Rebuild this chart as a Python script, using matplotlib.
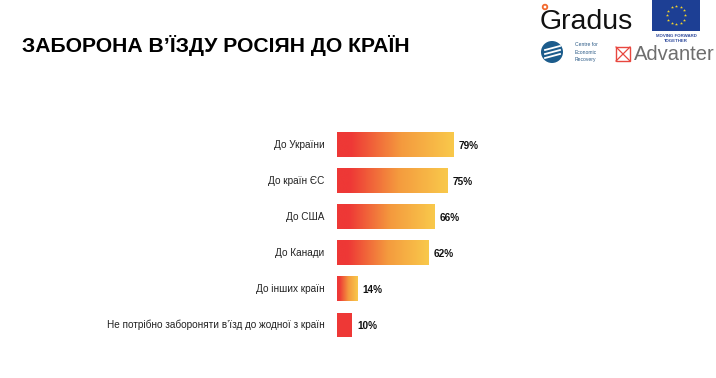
import numpy as np
import matplotlib
matplotlib.use('Agg')
from matplotlib import pyplot as plt
from matplotlib.colors import LinearSegmentedColormap
from matplotlib.patches import Rectangle, Circle

plt.rcParams['font.family'] = ['Liberation Sans', 'DejaVu Sans']

title = 'ЗАБОРОНА В’ЇЗДУ РОСІЯН ДО КРАЇН'
categories = ['До України', 'До країн ЄС', 'До США', 'До Канади',
              'До інших країн', 'Не потрібно забороняти в’їзд до жодної з країн']
values = [79, 75, 66, 62, 14, 10]

W, H = 716, 378
fig = plt.figure(figsize=(W / 100, H / 100), dpi=100)

red = '#EE3836'
yellow = '#F9C94B'
cmap = LinearSegmentedColormap.from_list(
    'ry', [(0, red), (0.12, red), (0.55, '#F49A3E'), (1, yellow)])

# main chart axes: 0..100 % mapped to 147 px starting at x=337
left, width = 337, 147
top, bottom = 127, 343
ax = fig.add_axes([left / W, 1 - bottom / H, width / W, (bottom - top) / H])
ax.axis('off')

bh = 0.69
grad = np.linspace(0, 1, 256).reshape(1, -1)
for i, v in enumerate(values):
    if i == len(values) - 1:
        ax.add_patch(Rectangle((0, i - bh / 2), v, bh, color=red, lw=0))
    else:
        ax.imshow(grad, cmap=cmap, aspect='auto',
                  extent=[0, v, i + bh / 2, i - bh / 2], interpolation='bicubic')
    ax.annotate(f'{v}%', (v, i), xytext=(3.8, -1), textcoords='offset points',
                ha='left', va='center', fontsize=7.2, fontweight='bold', color='#111111')
    ax.annotate(categories[i], (0, i), xytext=(-9, 0), textcoords='offset points',
                ha='right', va='center', fontsize=7.2, color='#222222')
ax.set_xlim(0, 100)
ax.set_ylim(len(values) - 0.5, -0.5)

# overlay in pixel coords for title and logos
ov = fig.add_axes([0, 0, 1, 1])
ov.set_xlim(0, W)
ov.set_ylim(H, 0)
ov.axis('off')
ov.set_zorder(-1)

ov.text(22, 46, title, fontsize=15.2, fontweight='bold', ha='left', va='center', color='#000000')

# Gradus
ov.text(540, 22, 'Gradus', fontsize=20.5, ha='left', va='center', color='#111111')
ov.add_patch(Circle((545, 7), 2.3, fc='white', ec='#F26A2E', lw=1.3))

# EU flag
ov.add_patch(Rectangle((652, 0), 48, 31, color='#1D3F94', lw=0))
for a in np.linspace(0, 2 * np.pi, 12, endpoint=False):
    ov.plot(676 + 9 * np.cos(a), 15 + 9 * np.sin(a), marker='*', ms=2.3,
            color='#F5D52B', mew=0)
ov.text(676, 36, 'MOVING FORWARD', fontsize=3.2, ha='center', va='center',
        color='#2F4A9C', fontweight='bold')
ov.text(676, 41, 'TOGETHER', fontsize=3.2, ha='center', va='center',
        color='#2F4A9C', fontweight='bold')

# Centre for Economic Recovery
ov.add_patch(Circle((552, 52), 11, color='#1C5C8C', lw=0))
for dy in (-4, 0, 4):
    ov.plot([545, 560], [52 + dy + 2, 52 + dy - 2], color='white', lw=1.3)
ov.text(575, 45, 'Centre for', fontsize=3.6, ha='left', va='center', color='#2B5A86')
ov.text(575, 52, 'Economic', fontsize=3.6, ha='left', va='center', color='#2B5A86')
ov.text(575, 59, 'Recovery', fontsize=3.6, ha='left', va='center', color='#2B5A86')

# Advanter
ov.add_patch(Rectangle((616, 47), 14, 14, fc='white', ec='#E8473F', lw=1))
ov.plot([616, 630], [47, 61], color='#E8473F', lw=0.9)
ov.plot([616, 630], [61, 47], color='#E8473F', lw=0.9)
ov.text(634, 54, 'Advanter', fontsize=14.5, ha='left', va='center', color='#6E6E6E')

fig.savefig('out.png', dpi=100, facecolor='white')
